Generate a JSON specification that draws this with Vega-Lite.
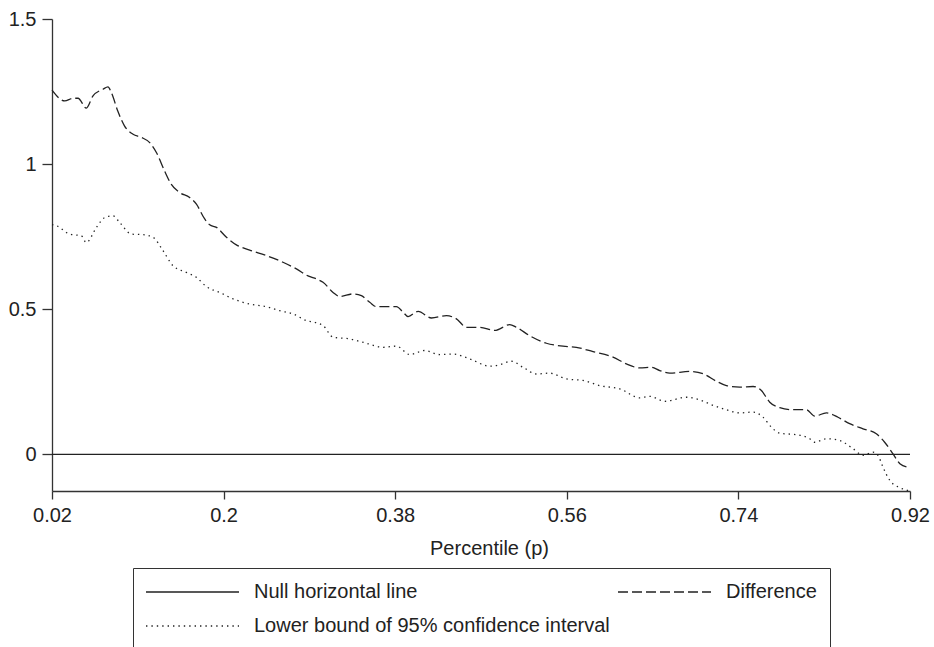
{
  "$schema": "https://vega.github.io/schema/vega-lite/v6.json",
  "autosize": {"type": "none"},
  "padding": {"left": 52, "top": 19, "right": 24, "bottom": 156},
  "width": 858,
  "height": 472,
  "background": "white",
  "config": {
    "view": {"stroke": null},
    "font": "Liberation Sans",
    "axis": {
      "grid": false,
      "domainColor": "#333",
      "domainWidth": 1.3,
      "tickColor": "#333",
      "tickWidth": 1.3,
      "labelFont": "Liberation Sans",
      "labelFontSize": 20,
      "labelColor": "#222",
      "titleFont": "Liberation Sans",
      "titleFontSize": 20,
      "titleFontWeight": "normal",
      "titleColor": "#222"
    }
  },
  "data": {
    "values": [
      {"p": 0.02, "v": 0, "series": "Null horizontal line"},
      {"p": 0.92, "v": 0, "series": "Null horizontal line"},

      {"p": 0.02, "v": 1.255, "series": "Difference"},
      {"p": 0.0333, "v": 1.218, "series": "Difference"},
      {"p": 0.042, "v": 1.227, "series": "Difference"},
      {"p": 0.0473, "v": 1.227, "series": "Difference"},
      {"p": 0.056, "v": 1.193, "series": "Difference"},
      {"p": 0.063, "v": 1.235, "series": "Difference"},
      {"p": 0.0735, "v": 1.258, "series": "Difference"},
      {"p": 0.0787, "v": 1.266, "series": "Difference"},
      {"p": 0.0823, "v": 1.246, "series": "Difference"},
      {"p": 0.089, "v": 1.183, "series": "Difference"},
      {"p": 0.096, "v": 1.132, "series": "Difference"},
      {"p": 0.105, "v": 1.103, "series": "Difference"},
      {"p": 0.1138, "v": 1.092, "series": "Difference"},
      {"p": 0.1225, "v": 1.074, "series": "Difference"},
      {"p": 0.1295, "v": 1.04, "series": "Difference"},
      {"p": 0.138, "v": 0.977, "series": "Difference"},
      {"p": 0.145, "v": 0.931, "series": "Difference"},
      {"p": 0.154, "v": 0.902, "series": "Difference"},
      {"p": 0.1644, "v": 0.885, "series": "Difference"},
      {"p": 0.1715, "v": 0.862, "series": "Difference"},
      {"p": 0.18, "v": 0.812, "series": "Difference"},
      {"p": 0.1854, "v": 0.791, "series": "Difference"},
      {"p": 0.1925, "v": 0.782, "series": "Difference"},
      {"p": 0.203, "v": 0.748, "series": "Difference"},
      {"p": 0.2134, "v": 0.722, "series": "Difference"},
      {"p": 0.2274, "v": 0.704, "series": "Difference"},
      {"p": 0.245, "v": 0.685, "series": "Difference"},
      {"p": 0.2623, "v": 0.662, "series": "Difference"},
      {"p": 0.2764, "v": 0.639, "series": "Difference"},
      {"p": 0.2885, "v": 0.615, "series": "Difference"},
      {"p": 0.2985, "v": 0.603, "series": "Difference"},
      {"p": 0.3043, "v": 0.593, "series": "Difference"},
      {"p": 0.3148, "v": 0.558, "series": "Difference"},
      {"p": 0.3218, "v": 0.544, "series": "Difference"},
      {"p": 0.3358, "v": 0.553, "series": "Difference"},
      {"p": 0.3445, "v": 0.547, "series": "Difference"},
      {"p": 0.3533, "v": 0.524, "series": "Difference"},
      {"p": 0.3603, "v": 0.509, "series": "Difference"},
      {"p": 0.3813, "v": 0.509, "series": "Difference"},
      {"p": 0.3883, "v": 0.49, "series": "Difference"},
      {"p": 0.3935, "v": 0.475, "series": "Difference"},
      {"p": 0.404, "v": 0.493, "series": "Difference"},
      {"p": 0.418, "v": 0.47, "series": "Difference"},
      {"p": 0.4338, "v": 0.478, "series": "Difference"},
      {"p": 0.4442, "v": 0.467, "series": "Difference"},
      {"p": 0.4547, "v": 0.438, "series": "Difference"},
      {"p": 0.4687, "v": 0.438, "series": "Difference"},
      {"p": 0.4844, "v": 0.427, "series": "Difference"},
      {"p": 0.5001, "v": 0.447, "series": "Difference"},
      {"p": 0.5071, "v": 0.438, "series": "Difference"},
      {"p": 0.5211, "v": 0.409, "series": "Difference"},
      {"p": 0.5386, "v": 0.383, "series": "Difference"},
      {"p": 0.556, "v": 0.373, "series": "Difference"},
      {"p": 0.57, "v": 0.369, "series": "Difference"},
      {"p": 0.5875, "v": 0.354, "series": "Difference"},
      {"p": 0.6085, "v": 0.335, "series": "Difference"},
      {"p": 0.6225, "v": 0.312, "series": "Difference"},
      {"p": 0.6365, "v": 0.298, "series": "Difference"},
      {"p": 0.6488, "v": 0.3, "series": "Difference"},
      {"p": 0.6575, "v": 0.289, "series": "Difference"},
      {"p": 0.668, "v": 0.28, "series": "Difference"},
      {"p": 0.689, "v": 0.286, "series": "Difference"},
      {"p": 0.7029, "v": 0.278, "series": "Difference"},
      {"p": 0.717, "v": 0.252, "series": "Difference"},
      {"p": 0.7274, "v": 0.237, "series": "Difference"},
      {"p": 0.7414, "v": 0.232, "series": "Difference"},
      {"p": 0.7554, "v": 0.234, "series": "Difference"},
      {"p": 0.7641, "v": 0.22, "series": "Difference"},
      {"p": 0.7729, "v": 0.18, "series": "Difference"},
      {"p": 0.7834, "v": 0.161, "series": "Difference"},
      {"p": 0.7973, "v": 0.154, "series": "Difference"},
      {"p": 0.8113, "v": 0.154, "series": "Difference"},
      {"p": 0.82, "v": 0.132, "series": "Difference"},
      {"p": 0.8323, "v": 0.143, "series": "Difference"},
      {"p": 0.8445, "v": 0.128, "series": "Difference"},
      {"p": 0.8567, "v": 0.106, "series": "Difference"},
      {"p": 0.8707, "v": 0.088, "series": "Difference"},
      {"p": 0.8847, "v": 0.071, "series": "Difference"},
      {"p": 0.8934, "v": 0.042, "series": "Difference"},
      {"p": 0.9022, "v": 0.002, "series": "Difference"},
      {"p": 0.9094, "v": -0.032, "series": "Difference"},
      {"p": 0.918, "v": -0.044, "series": "Difference"},
      {"p": 0.92, "v": -0.045, "series": "Difference"},

      {"p": 0.02, "v": 0.792, "series": "Lower bound of 95% confidence interval"},
      {"p": 0.0246, "v": 0.788, "series": "Lower bound of 95% confidence interval"},
      {"p": 0.0386, "v": 0.759, "series": "Lower bound of 95% confidence interval"},
      {"p": 0.0508, "v": 0.753, "series": "Lower bound of 95% confidence interval"},
      {"p": 0.056, "v": 0.73, "series": "Lower bound of 95% confidence interval"},
      {"p": 0.0666, "v": 0.782, "series": "Lower bound of 95% confidence interval"},
      {"p": 0.0753, "v": 0.816, "series": "Lower bound of 95% confidence interval"},
      {"p": 0.084, "v": 0.822, "series": "Lower bound of 95% confidence interval"},
      {"p": 0.091, "v": 0.799, "series": "Lower bound of 95% confidence interval"},
      {"p": 0.1033, "v": 0.759, "series": "Lower bound of 95% confidence interval"},
      {"p": 0.1155, "v": 0.757, "series": "Lower bound of 95% confidence interval"},
      {"p": 0.126, "v": 0.748, "series": "Lower bound of 95% confidence interval"},
      {"p": 0.1364, "v": 0.702, "series": "Lower bound of 95% confidence interval"},
      {"p": 0.1469, "v": 0.65, "series": "Lower bound of 95% confidence interval"},
      {"p": 0.161, "v": 0.627, "series": "Lower bound of 95% confidence interval"},
      {"p": 0.1715, "v": 0.61, "series": "Lower bound of 95% confidence interval"},
      {"p": 0.182, "v": 0.578, "series": "Lower bound of 95% confidence interval"},
      {"p": 0.196, "v": 0.558, "series": "Lower bound of 95% confidence interval"},
      {"p": 0.2099, "v": 0.536, "series": "Lower bound of 95% confidence interval"},
      {"p": 0.2274, "v": 0.518, "series": "Lower bound of 95% confidence interval"},
      {"p": 0.245, "v": 0.509, "series": "Lower bound of 95% confidence interval"},
      {"p": 0.2589, "v": 0.495, "series": "Lower bound of 95% confidence interval"},
      {"p": 0.2728, "v": 0.484, "series": "Lower bound of 95% confidence interval"},
      {"p": 0.2869, "v": 0.461, "series": "Lower bound of 95% confidence interval"},
      {"p": 0.299, "v": 0.452, "series": "Lower bound of 95% confidence interval"},
      {"p": 0.3043, "v": 0.444, "series": "Lower bound of 95% confidence interval"},
      {"p": 0.3148, "v": 0.404, "series": "Lower bound of 95% confidence interval"},
      {"p": 0.3323, "v": 0.398, "series": "Lower bound of 95% confidence interval"},
      {"p": 0.3498, "v": 0.383, "series": "Lower bound of 95% confidence interval"},
      {"p": 0.3673, "v": 0.369, "series": "Lower bound of 95% confidence interval"},
      {"p": 0.3813, "v": 0.373, "series": "Lower bound of 95% confidence interval"},
      {"p": 0.3953, "v": 0.344, "series": "Lower bound of 95% confidence interval"},
      {"p": 0.411, "v": 0.358, "series": "Lower bound of 95% confidence interval"},
      {"p": 0.4267, "v": 0.344, "series": "Lower bound of 95% confidence interval"},
      {"p": 0.4407, "v": 0.346, "series": "Lower bound of 95% confidence interval"},
      {"p": 0.4582, "v": 0.329, "series": "Lower bound of 95% confidence interval"},
      {"p": 0.4792, "v": 0.304, "series": "Lower bound of 95% confidence interval"},
      {"p": 0.4896, "v": 0.309, "series": "Lower bound of 95% confidence interval"},
      {"p": 0.5019, "v": 0.321, "series": "Lower bound of 95% confidence interval"},
      {"p": 0.5141, "v": 0.3, "series": "Lower bound of 95% confidence interval"},
      {"p": 0.5281, "v": 0.277, "series": "Lower bound of 95% confidence interval"},
      {"p": 0.542, "v": 0.28, "series": "Lower bound of 95% confidence interval"},
      {"p": 0.5596, "v": 0.26, "series": "Lower bound of 95% confidence interval"},
      {"p": 0.577, "v": 0.255, "series": "Lower bound of 95% confidence interval"},
      {"p": 0.5945, "v": 0.237, "series": "Lower bound of 95% confidence interval"},
      {"p": 0.6155, "v": 0.226, "series": "Lower bound of 95% confidence interval"},
      {"p": 0.6365, "v": 0.195, "series": "Lower bound of 95% confidence interval"},
      {"p": 0.647, "v": 0.2, "series": "Lower bound of 95% confidence interval"},
      {"p": 0.6627, "v": 0.183, "series": "Lower bound of 95% confidence interval"},
      {"p": 0.6855, "v": 0.197, "series": "Lower bound of 95% confidence interval"},
      {"p": 0.6994, "v": 0.188, "series": "Lower bound of 95% confidence interval"},
      {"p": 0.7134, "v": 0.169, "series": "Lower bound of 95% confidence interval"},
      {"p": 0.7274, "v": 0.154, "series": "Lower bound of 95% confidence interval"},
      {"p": 0.7414, "v": 0.143, "series": "Lower bound of 95% confidence interval"},
      {"p": 0.7554, "v": 0.146, "series": "Lower bound of 95% confidence interval"},
      {"p": 0.7659, "v": 0.128, "series": "Lower bound of 95% confidence interval"},
      {"p": 0.7746, "v": 0.094, "series": "Lower bound of 95% confidence interval"},
      {"p": 0.7834, "v": 0.073, "series": "Lower bound of 95% confidence interval"},
      {"p": 0.8008, "v": 0.068, "series": "Lower bound of 95% confidence interval"},
      {"p": 0.8148, "v": 0.054, "series": "Lower bound of 95% confidence interval"},
      {"p": 0.82, "v": 0.042, "series": "Lower bound of 95% confidence interval"},
      {"p": 0.8323, "v": 0.054, "series": "Lower bound of 95% confidence interval"},
      {"p": 0.8462, "v": 0.048, "series": "Lower bound of 95% confidence interval"},
      {"p": 0.8602, "v": 0.02, "series": "Lower bound of 95% confidence interval"},
      {"p": 0.8707, "v": -0.003, "series": "Lower bound of 95% confidence interval"},
      {"p": 0.8812, "v": 0.008, "series": "Lower bound of 95% confidence interval"},
      {"p": 0.8864, "v": -0.003, "series": "Lower bound of 95% confidence interval"},
      {"p": 0.8917, "v": -0.044, "series": "Lower bound of 95% confidence interval"},
      {"p": 0.8987, "v": -0.089, "series": "Lower bound of 95% confidence interval"},
      {"p": 0.9074, "v": -0.112, "series": "Lower bound of 95% confidence interval"},
      {"p": 0.9146, "v": -0.121, "series": "Lower bound of 95% confidence interval"},
      {"p": 0.918, "v": -0.125, "series": "Lower bound of 95% confidence interval"}
    ]
  },
  "mark": {"type": "line", "color": "#222", "strokeWidth": 1.3, "interpolate": "monotone"},
  "encoding": {
    "x": {
      "field": "p",
      "type": "quantitative",
      "scale": {"domain": [0.02, 0.92], "nice": false, "zero": false},
      "axis": {
        "values": [0.02, 0.2, 0.38, 0.56, 0.74, 0.92],
        "format": ".2~f",
        "title": "Percentile (p)",
        "tickSize": 8,
        "labelPadding": 6,
        "titlePadding": 13,
        "titleX": 437,
        "labelFlush": false
      }
    },
    "y": {
      "field": "v",
      "type": "quantitative",
      "scale": {"domain": [-0.126, 1.5], "nice": false, "zero": false},
      "axis": {
        "values": [0, 0.5, 1, 1.5],
        "format": ".1~f",
        "title": null,
        "tickSize": 10,
        "labelPadding": 6
      }
    },
    "strokeDash": {
      "field": "series",
      "type": "nominal",
      "scale": {
        "domain": ["Null horizontal line", "Difference", "Lower bound of 95% confidence interval"],
        "range": [[1, 0], [10, 4], [1.4, 4]]
      },
      "legend": {
        "orient": "none",
        "legendX": 81,
        "legendY": 549,
        "title": null,
        "direction": "horizontal",
        "columns": 2,
        "gridAlign": "none",
        "columnPadding": 5,
        "rowPadding": 13,
        "padding": 13,
        "strokeColor": "#333",
        "symbolType": "M-4.65,0H4.65",
        "symbolSize": 400,
        "symbolStrokeWidth": 1.3,
        "symbolStrokeColor": "#222",
        "symbolOffset": 35.5,
        "labelOffset": 50.5,
        "labelFont": "Liberation Sans",
        "labelFontSize": 20,
        "labelColor": "#222",
        "labelLimit": 600
      }
    }
  }
}
